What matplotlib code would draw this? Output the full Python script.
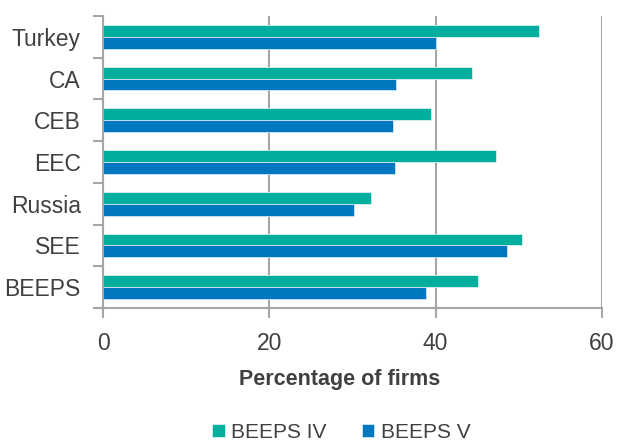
import numpy as np
import matplotlib
matplotlib.use('Agg')
import matplotlib.pyplot as plt

regions = ['BEEPS', 'SEE', 'Russia', 'EEC', 'CEB', 'CA', 'Turkey']
beeps_iv = [45.1, 50.4, 32.2, 47.2, 39.4, 44.4, 52.4]
beeps_v = [38.8, 48.6, 30.2, 35.1, 34.9, 35.2, 40.0]

teal = '#00ae9e'
blue = '#0077bf'
grey = '#a6a6a6'
txt = '#404040'

plt.rcParams['font.family'] = ['Liberation Sans', 'DejaVu Sans']

fig = plt.figure(figsize=(6.17, 4.41), dpi=100)
ax = fig.add_axes([0.167, 0.3016, 0.8087, 0.6621])

y = np.arange(len(regions))
h = 0.285
ax.barh(y + h / 2, beeps_iv, height=h, color=teal, edgecolor='#d8f2ef', linewidth=0.6, label='BEEPS IV', zorder=3)
ax.barh(y - h / 2, beeps_v, height=h, color=blue, edgecolor='#cfe6f3', linewidth=0.6, label='BEEPS V', zorder=3)

ax.set_xlim(0, 60)
ax.set_ylim(-0.5, len(regions) - 0.5)
ax.set_xticks([0, 20, 40, 60])
ax.set_yticks(y)
ax.set_yticklabels(regions)
ax.set_yticks(np.arange(-0.5, len(regions)), minor=True)

ax.grid(axis='x', color=grey, linewidth=1.5, zorder=0)
for s in ['top', 'right']:
    ax.spines[s].set_visible(False)
for s in ['left', 'bottom']:
    ax.spines[s].set_color(grey)
    ax.spines[s].set_linewidth(1.5)
    ax.spines[s].set_zorder(4)

ax.tick_params(axis='y', which='major', length=0, pad=16, labelsize=16.5, labelcolor=txt)
ax.tick_params(axis='y', which='minor', length=7, width=1.5, color=grey)
ax.tick_params(axis='x', length=7, width=1.5, color=grey, pad=10, labelsize=16.5, labelcolor=txt)

ax.set_xlabel('Percentage of firms', fontsize=15.5, fontweight='bold', color=txt)
ax.xaxis.set_label_coords(0.475, -0.21)

fig.legend(loc='center', bbox_to_anchor=(0.553, 0.019), ncol=2, frameon=False,
           fontsize=15, handlelength=0.6, handleheight=0.6, handletextpad=0.3,
           columnspacing=1.7, labelcolor=txt)

fig.savefig('out.png', dpi=100)
